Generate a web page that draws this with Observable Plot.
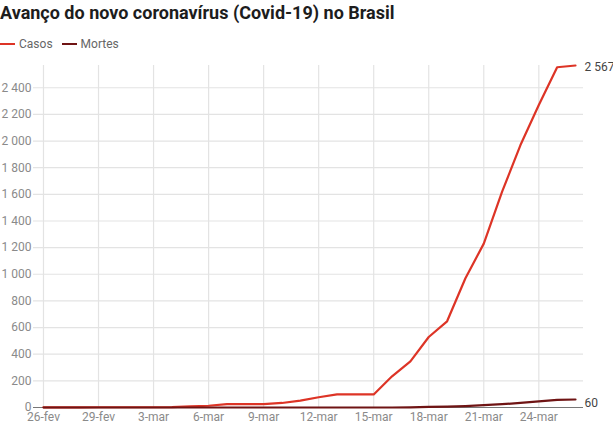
<!DOCTYPE html>
<html>
<head>
<meta charset="utf-8">
<script src="https://cdn.jsdelivr.net/npm/d3@7"></script>
<script src="https://cdn.jsdelivr.net/npm/@observablehq/plot@0.6"></script>
<style>
  body { margin: 0; background: #fff; font-family: Roboto, "Noto Sans", sans-serif; }
  #wrap { width: 613px; height: 423px; position: relative; overflow: hidden; }
  .title { position: absolute; left: 0; top: 1px; font-size: 18px; font-weight: 700; color: #1d1d1d; line-height: 24px; white-space: nowrap; }
  .legend { position: absolute; left: 0; top: 35px; font-size: 12px; color: #666; line-height: 18px; display: flex; align-items: center; white-space: nowrap; }
  .legend .sw { display: inline-block; width: 15px; height: 2px; margin-right: 4px; }
  .legend .item { display: flex; align-items: center; margin-right: 9px; }
  #chart { position: absolute; left: 0; top: 55px; }
</style>
</head>
<body>
<div id="wrap">
  <div class="title">Avanço do novo coronavírus (Covid-19) no Brasil</div>
  <div class="legend" id="legend"></div>
  <div id="chart"></div>
</div>
<script>
const dates = ["2020-02-26","2020-02-27","2020-02-28","2020-02-29","2020-03-01","2020-03-02","2020-03-03","2020-03-04","2020-03-05","2020-03-06","2020-03-07","2020-03-08","2020-03-09","2020-03-10","2020-03-11","2020-03-12","2020-03-13","2020-03-14","2020-03-15","2020-03-16","2020-03-17","2020-03-18","2020-03-19","2020-03-20","2020-03-21","2020-03-22","2020-03-23","2020-03-24","2020-03-25","2020-03-26"];
const casos = [1,1,1,2,2,2,2,3,8,13,25,25,25,34,52,77,98,98,98,234,346,529,647,970,1230,1620,1970,2270,2554,2567];
const mortes = [0,0,0,0,0,0,0,0,0,0,0,0,0,0,0,0,0,0,0,0,1,4,7,11,18,25,34,46,57,60];
const seriesNames = ["Casos","Mortes"];
const seriesColors = ["#dd3426","#6f1414"];
const xTickDates = ["2020-02-26","2020-02-29","2020-03-03","2020-03-06","2020-03-09","2020-03-12","2020-03-15","2020-03-18","2020-03-21","2020-03-24"];
const yTicks = [0,200,400,600,800,1000,1200,1400,1600,1800,2000,2200,2400];
const monthNames = ["jan","fev","mar","abr","mai","jun","jul","ago","set","out","nov","dez"];

const parse = s => new Date(s + "T00:00:00Z");
const data = [];
seriesNames.forEach((name, k) => {
  const vals = k === 0 ? casos : mortes;
  dates.forEach((d, i) => data.push({date: parse(d), value: vals[i], serie: name}));
});
const lastPoints = seriesNames.map((name, k) => {
  const vals = k === 0 ? casos : mortes;
  return {date: parse(dates[dates.length - 1]), value: vals[vals.length - 1], serie: name};
});

const fmt = v => d3.format(",")(v).replace(/,/g, " ");
const dateFmt = d => d.getUTCDate() + "-" + monthNames[d.getUTCMonth()];

// legend
const leg = document.getElementById("legend");
seriesNames.forEach((n, k) => {
  const it = document.createElement("span");
  it.className = "item";
  it.innerHTML = `<span class="sw" style="background:${seriesColors[k]}"></span>${n}`;
  leg.appendChild(it);
});

const chart = Plot.plot({
  width: 613,
  height: 368,
  marginLeft: 43,
  marginRight: 38,
  marginTop: 10,
  marginBottom: 16,
  style: {fontFamily: "Roboto, 'Noto Sans', sans-serif", fontSize: "12px", color: "#8a8a8a", background: "transparent"},
  x: {type: "utc", domain: [parse(dates[0]), parse(dates[dates.length - 1])], label: null},
  y: {domain: [0, d3.max(casos)], label: null},
  color: {domain: seriesNames, range: seriesColors},
  marks: [
    Plot.ruleX(xTickDates.map(parse), {stroke: "#e3e3e3", strokeWidth: 1.2}),
    Plot.ruleY(yTicks.filter(v => v > 0), {stroke: "#e3e3e3", strokeWidth: 1.2, insetLeft: -10, insetRight: -8}),
    Plot.axisX(xTickDates.map(parse), {tickSize: 0, tickPadding: 5, tickFormat: dateFmt, fill: "#8a8a8a", fontSize: 12, label: null}),
    Plot.axisY(yTicks, {tickSize: 0, tickPadding: 12, tickFormat: fmt, fill: "#8a8a8a", fontSize: 12, label: null}),
    Plot.ruleY([0], {stroke: "#777", strokeWidth: 1.2, insetLeft: -10, insetRight: -8}),
    Plot.line(data, {x: "date", y: "value", z: "serie", stroke: "serie", strokeWidth: 2.2}),
    Plot.text(lastPoints.slice(0, 1), {x: "date", y: "value", text: d => fmt(d.value), textAnchor: "start", dx: 9, dy: 2, fill: "#444", fontSize: 12}),
    Plot.text(lastPoints.slice(1), {x: "date", y: "value", text: d => fmt(d.value), textAnchor: "start", dx: 9, dy: 4, fill: "#444", fontSize: 12})
  ]
});
document.getElementById("chart").appendChild(chart);
</script>
</body>
</html>
